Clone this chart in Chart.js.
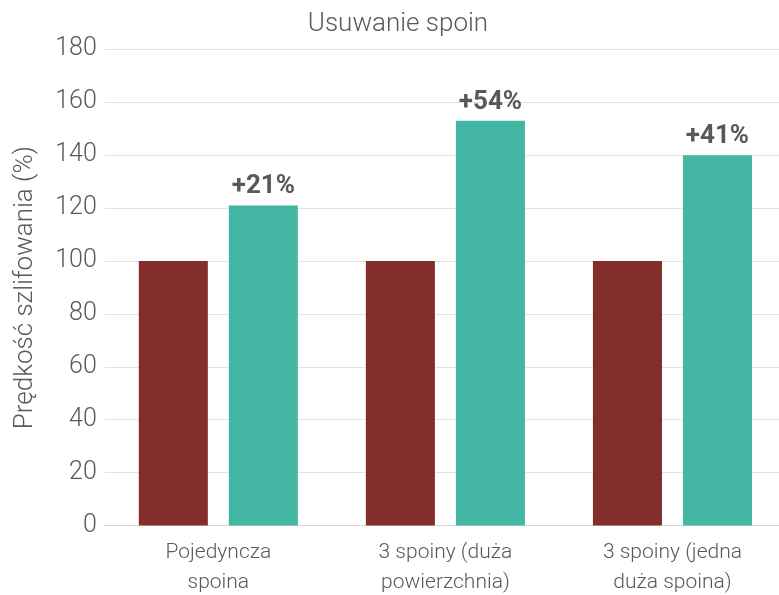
<!DOCTYPE html>
<html><head><meta charset="utf-8">
<script src="https://cdn.jsdelivr.net/npm/chart.js@4/dist/chart.umd.min.js"></script>
<style>html,body{margin:0;padding:0;overflow:hidden;background:#fff;width:779px;height:595px}#wrap{width:800px;height:610px}</style>
</head><body><div id="wrap"><canvas id="c" width="800" height="610"></canvas></div>
<script>
const categories = [["Pojedyncza","spoina"],["3 spoiny (duża","powierzchnia)"],["3 spoiny (jedna","duża spoina)"]];
const baselineValues = [100, 100, 100];
const improvedValues = [121, 153, 140];
const improvementLabels = ["+21%", "+54%", "+41%"];
const yTicks = [0,20,40,60,80,100,120,140,160,180];

const FONT = "Roboto";
const GREY = "#595959";

const labelPlugin = {
  id: 'barLabels',
  afterDatasetsDraw(chart) {
    const ctx = chart.ctx;
    const meta = chart.getDatasetMeta(1);
    ctx.save();
    ctx.font = "bold 26px " + FONT;
    ctx.fillStyle = GREY;
    ctx.textAlign = 'center';
    ctx.textBaseline = 'alphabetic';
    meta.data.forEach((bar, i) => {
      ctx.fillText(improvementLabels[i], bar.x, bar.y - 12);
    });
    ctx.restore();
  }
};

new Chart(document.getElementById('c'), {
  type: 'bar',
  data: {
    labels: categories,
    datasets: [
      {data: baselineValues, backgroundColor: '#832E2B', barPercentage: 0.767, categoryPercentage: 0.793},
      {data: improvedValues, backgroundColor: '#43B7A4', barPercentage: 0.767, categoryPercentage: 0.793}
    ]
  },
  options: {
    responsive: false,
    animation: false,
    layout: {padding: {top: 0, right: 14, left: 10, bottom: 0}},
    plugins: {
      legend: {display: false},
      tooltip: {enabled: false},
      title: {display: true, text: 'Usuwanie spoin', color: GREY,
        font: {family: FONT, size: 26, weight: '300'}, padding: {top: 9, bottom: 9}}
    },
    scales: {
      x: {
        grid: {display: false, drawTicks: false},
        border: {display: true, color: '#d9d9d9', width: 1},
        ticks: {color: GREY, font: {family: FONT, size: 21, weight: '300', lineHeight: 1.43}, padding: 12, maxRotation: 0},
      },
      y: {
        min: 0, max: 180,
        afterBuildTicks: (axis) => { axis.ticks = yTicks.map(v => ({value: v})); },
        grid: {color: '#e3e3e3', drawTicks: false, lineWidth: 1},
        border: {display: false},
        ticks: {color: GREY, font: {family: FONT, size: 25, weight: '300'}, padding: 8},
        title: {display: true, text: 'Prędkość szlifowania (%)', color: GREY,
          font: {family: FONT, size: 26, weight: '300'}, padding: {top: 0, bottom: 6}}
      }
    }
  },
  plugins: [labelPlugin]
});
</script></body></html>
